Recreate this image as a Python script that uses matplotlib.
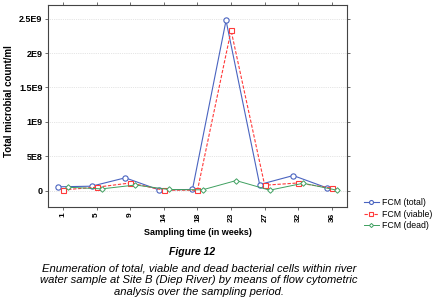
import matplotlib
matplotlib.use("Agg")
import matplotlib.pyplot as plt
import numpy as np

plt.rcParams['font.family'] = ['Liberation Sans', 'DejaVu Sans']

weeks = ["1", "5", "9", "14", "18", "23", "27", "32", "36"]
fcm_total = [5.4e7, 6.3e7, 1.85e8, 1.0e7, 1.5e7, 2.475e9, 8.7e7, 2.18e8, 3.9e7]
fcm_viable = [1.0e7, 4.8e7, 1.1e8, 5e6, 5e6, 2.33e9, 7.7e7, 1.1e8, 3.3e7]
fcm_dead = [4.8e7, 2.4e7, 8.0e7, 1.5e7, 1.0e7, 1.45e8, 5e6, 1.06e8, 5e6]
ytick_vals = [0, 5e8, 1e9, 1.5e9, 2e9, 2.5e9]
ytick_labels = ["0", "5E8", "1E9", "1.5E9", "2E9", "2.5E9"]

fig = plt.figure(figsize=(4.42, 3.07), dpi=100)
ax = fig.add_axes([0.1086, 0.3257, 0.6764, 0.658])

x = np.arange(len(weeks))
off = 0.15
ax.plot(x - off, fcm_total, color='#4a64c0', lw=0.8, ls='-', marker='o', ms=3.8,
        mfc='white', mec='#4a64c0', mew=0.8, label='FCM (total)')
ax.plot(x, fcm_viable, color='#ff3a3a', lw=0.8, ls=(0, (3, 1.5)), marker='s', ms=3.6,
        mfc='white', mec='#ff3a3a', mew=0.8, label='FCM (viable)')
ax.plot(x + off, fcm_dead, color='#3fa060', lw=0.7, ls='-', marker='D', ms=2.8,
        mfc='white', mec='#3fa060', mew=0.7, label='FCM (dead)')

ax.set_xlim(-0.45, 8.45)
ax.set_ylim(-0.24e9, 2.7e9)
ax.set_xticks(x)
ax.set_xticklabels(weeks, rotation=90, fontsize=6, fontweight='bold')
ax.set_yticks(ytick_vals)
ax.set_yticklabels(ytick_labels, fontsize=6.5, fontweight='bold')
ax.tick_params(axis='both', length=2, width=0.6, color='#555555', top=True, right=True, pad=2)
ax.yaxis.grid(True, ls=':', lw=0.5, color='#cccccc')
for s in ax.spines.values():
    s.set_linewidth(0.8)
    s.set_color('#444444')

ax.set_ylabel('Total microbial count/ml', fontsize=7, fontweight='bold', labelpad=2)
ax.yaxis.set_label_coords(-0.113, 0.525)
ax.set_xlabel('Sampling time (in weeks)', fontsize=6.5, fontweight='bold', labelpad=4)

ax.legend(loc='center left', bbox_to_anchor=(1.03, -0.035), frameon=False, fontsize=6.3,
          handlelength=1.7, handletextpad=0.4, labelspacing=0.3, markerscale=0.75)

fig.text(0.435, 0.179, 'Figure 12', fontsize=7.5, fontweight='bold', style='italic',
         ha='center', va='center')
fig.text(0.45, 0.088,
         'Enumeration of total, viable and dead bacterial cells within river\n'
         'water sample at Site B (Diep River) by means of flow cytometric\n'
         'analysis over the sampling period.',
         fontsize=8.1, style='italic', ha='center', va='center', linespacing=1.2)

fig.savefig('out.png', dpi=100)
